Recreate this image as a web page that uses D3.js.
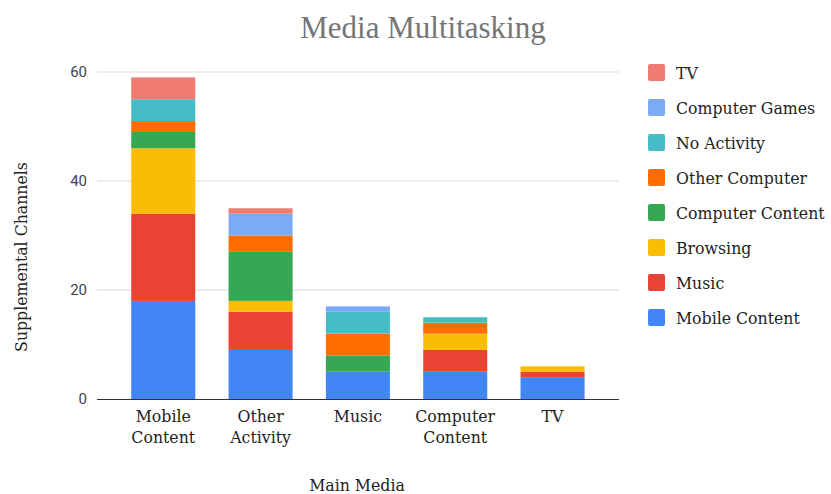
<!DOCTYPE html>
<html>
<head>
<meta charset="utf-8">
<script src="https://cdn.jsdelivr.net/npm/d3@7"></script>
<style>
  body { margin: 0; background: #fff; }
  text { font-family: "DejaVu Serif Condensed", "DejaVu Serif", serif; }
</style>
</head>
<body>
<div class="container"></div>
<script>
const w = 831;
const h = 494;

// categories on the x axis
const mainMedia = ['Mobile Content', 'Other Activity', 'Music', 'Computer Content', 'TV'];
// stacked series, bottom to top
const seriesNames = ['Mobile Content', 'Music', 'Browsing', 'Computer Content', 'Other Computer', 'No Activity', 'Computer Games', 'TV'];
const seriesColors = ['#4285f4', '#ea4335', '#fbbc04', '#34a853', '#ff6d01', '#46bdc6', '#7baaf7', '#f07b72'];
// one array per series, values per main media
const mobileContent = [18, 9, 5, 5, 4];
const music = [16, 7, 0, 4, 1];
const browsing = [12, 2, 0, 3, 1];
const computerContent = [3, 9, 3, 0, 0];
const otherComputer = [2, 3, 4, 2, 0];
const noActivity = [4, 0, 4, 1, 0];
const computerGames = [0, 4, 1, 0, 0];
const tv = [4, 1, 0, 0, 0];
const yTicks = [0, 20, 40, 60];

const seriesValues = [mobileContent, music, browsing, computerContent, otherComputer, noActivity, computerGames, tv];

// build table for d3.stack
const table = mainMedia.map((m, i) => {
  const row = { media: m };
  seriesNames.forEach((s, j) => { row[s] = seriesValues[j][i]; });
  return row;
});
const stacked = d3.stack().keys(seriesNames)(table);

const svg = d3.select('.container')
  .append('svg')
  .attr('width', w)
  .attr('height', h);

const gridLeft = 97;
const gridRight = 619;

const xScale = d3.scaleBand()
  .domain(mainMedia)
  .range([114.6, 601.2])
  .paddingInner(0.342)
  .paddingOuter(0.171);

const yScale = d3.scaleLinear()
  .domain([0, 60])
  .range([399, 72]);

// gridlines
svg.append('g')
  .selectAll('line')
  .data(yTicks.filter((t) => t > 0))
  .enter()
  .append('line')
  .attr('x1', gridLeft)
  .attr('x2', gridRight)
  .attr('y1', (d) => yScale(d))
  .attr('y2', (d) => yScale(d))
  .attr('stroke', '#d9d9d9')
  .attr('stroke-width', 1);

// y tick labels
svg.append('g')
  .selectAll('text')
  .data(yTicks)
  .enter()
  .append('text')
  .attr('x', 87)
  .attr('y', (d) => yScale(d) + 5)
  .attr('text-anchor', 'end')
  .style('font-family', 'Roboto, sans-serif')
  .style('font-size', '15px')
  .attr('fill', '#444')
  .text((d) => d);

// bars
const layers = svg.append('g')
  .selectAll('g')
  .data(stacked)
  .enter()
  .append('g')
  .attr('fill', (d, i) => seriesColors[i]);

layers.selectAll('rect')
  .data((d) => d)
  .enter()
  .append('rect')
  .attr('x', (d) => xScale(d.data.media))
  .attr('width', xScale.bandwidth())
  .attr('y', (d) => yScale(d[1]))
  .attr('height', (d) => yScale(d[0]) - yScale(d[1]));

// baseline
svg.append('line')
  .attr('x1', gridLeft)
  .attr('x2', gridRight)
  .attr('y1', yScale(0) + 0.5)
  .attr('y2', yScale(0) + 0.5)
  .attr('stroke', '#333')
  .attr('stroke-width', 1.2);

// x labels (two lines)
const xLabels = svg.append('g')
  .selectAll('text')
  .data(mainMedia)
  .enter()
  .append('text')
  .attr('text-anchor', 'middle')
  .attr('fill', '#222')
  .style('font-size', '17.5px')
  .attr('transform', (d) => 'translate(' + (xScale(d) + xScale.bandwidth() / 2) + ',422)');
xLabels.each(function (d) {
  const words = d.split(' ');
  d3.select(this).selectAll('tspan')
    .data(words)
    .enter()
    .append('tspan')
    .attr('x', 0)
    .attr('dy', (t, i) => (i === 0 ? 0 : 21))
    .text((t) => t);
});

// title
svg.append('text')
  .attr('x', 423)
  .attr('y', 38)
  .attr('text-anchor', 'middle')
  .attr('fill', '#757575')
  .style('font-family', '"Liberation Serif", serif')
  .style('font-size', '31px')
  .text('Media Multitasking');

// axis titles
svg.append('text')
  .attr('x', 357)
  .attr('y', 491)
  .attr('text-anchor', 'middle')
  .attr('fill', '#222')
  .style('font-size', '17.5px')
  .text('Main Media');

svg.append('text')
  .attr('transform', 'translate(27,257) rotate(270)')
  .attr('text-anchor', 'middle')
  .attr('fill', '#222')
  .style('font-size', '17.5px')
  .text('Supplemental Channels');

// legend, top entry is the last series
const legendItems = seriesNames.slice().reverse();
const legend = svg.selectAll('.legend')
  .data(legendItems)
  .enter()
  .append('g')
  .attr('class', 'legend')
  .attr('transform', (d, i) => 'translate(648,' + (64 + i * 35) + ')');

legend.append('rect')
  .attr('width', 17)
  .attr('height', 17)
  .attr('rx', 2)
  .attr('fill', (d) => seriesColors[seriesNames.indexOf(d)]);

legend.append('text')
  .attr('x', 28)
  .attr('y', 14.5)
  .attr('fill', '#222')
  .style('font-size', '17.5px')
  .text((d) => d);
</script>
</body>
</html>
